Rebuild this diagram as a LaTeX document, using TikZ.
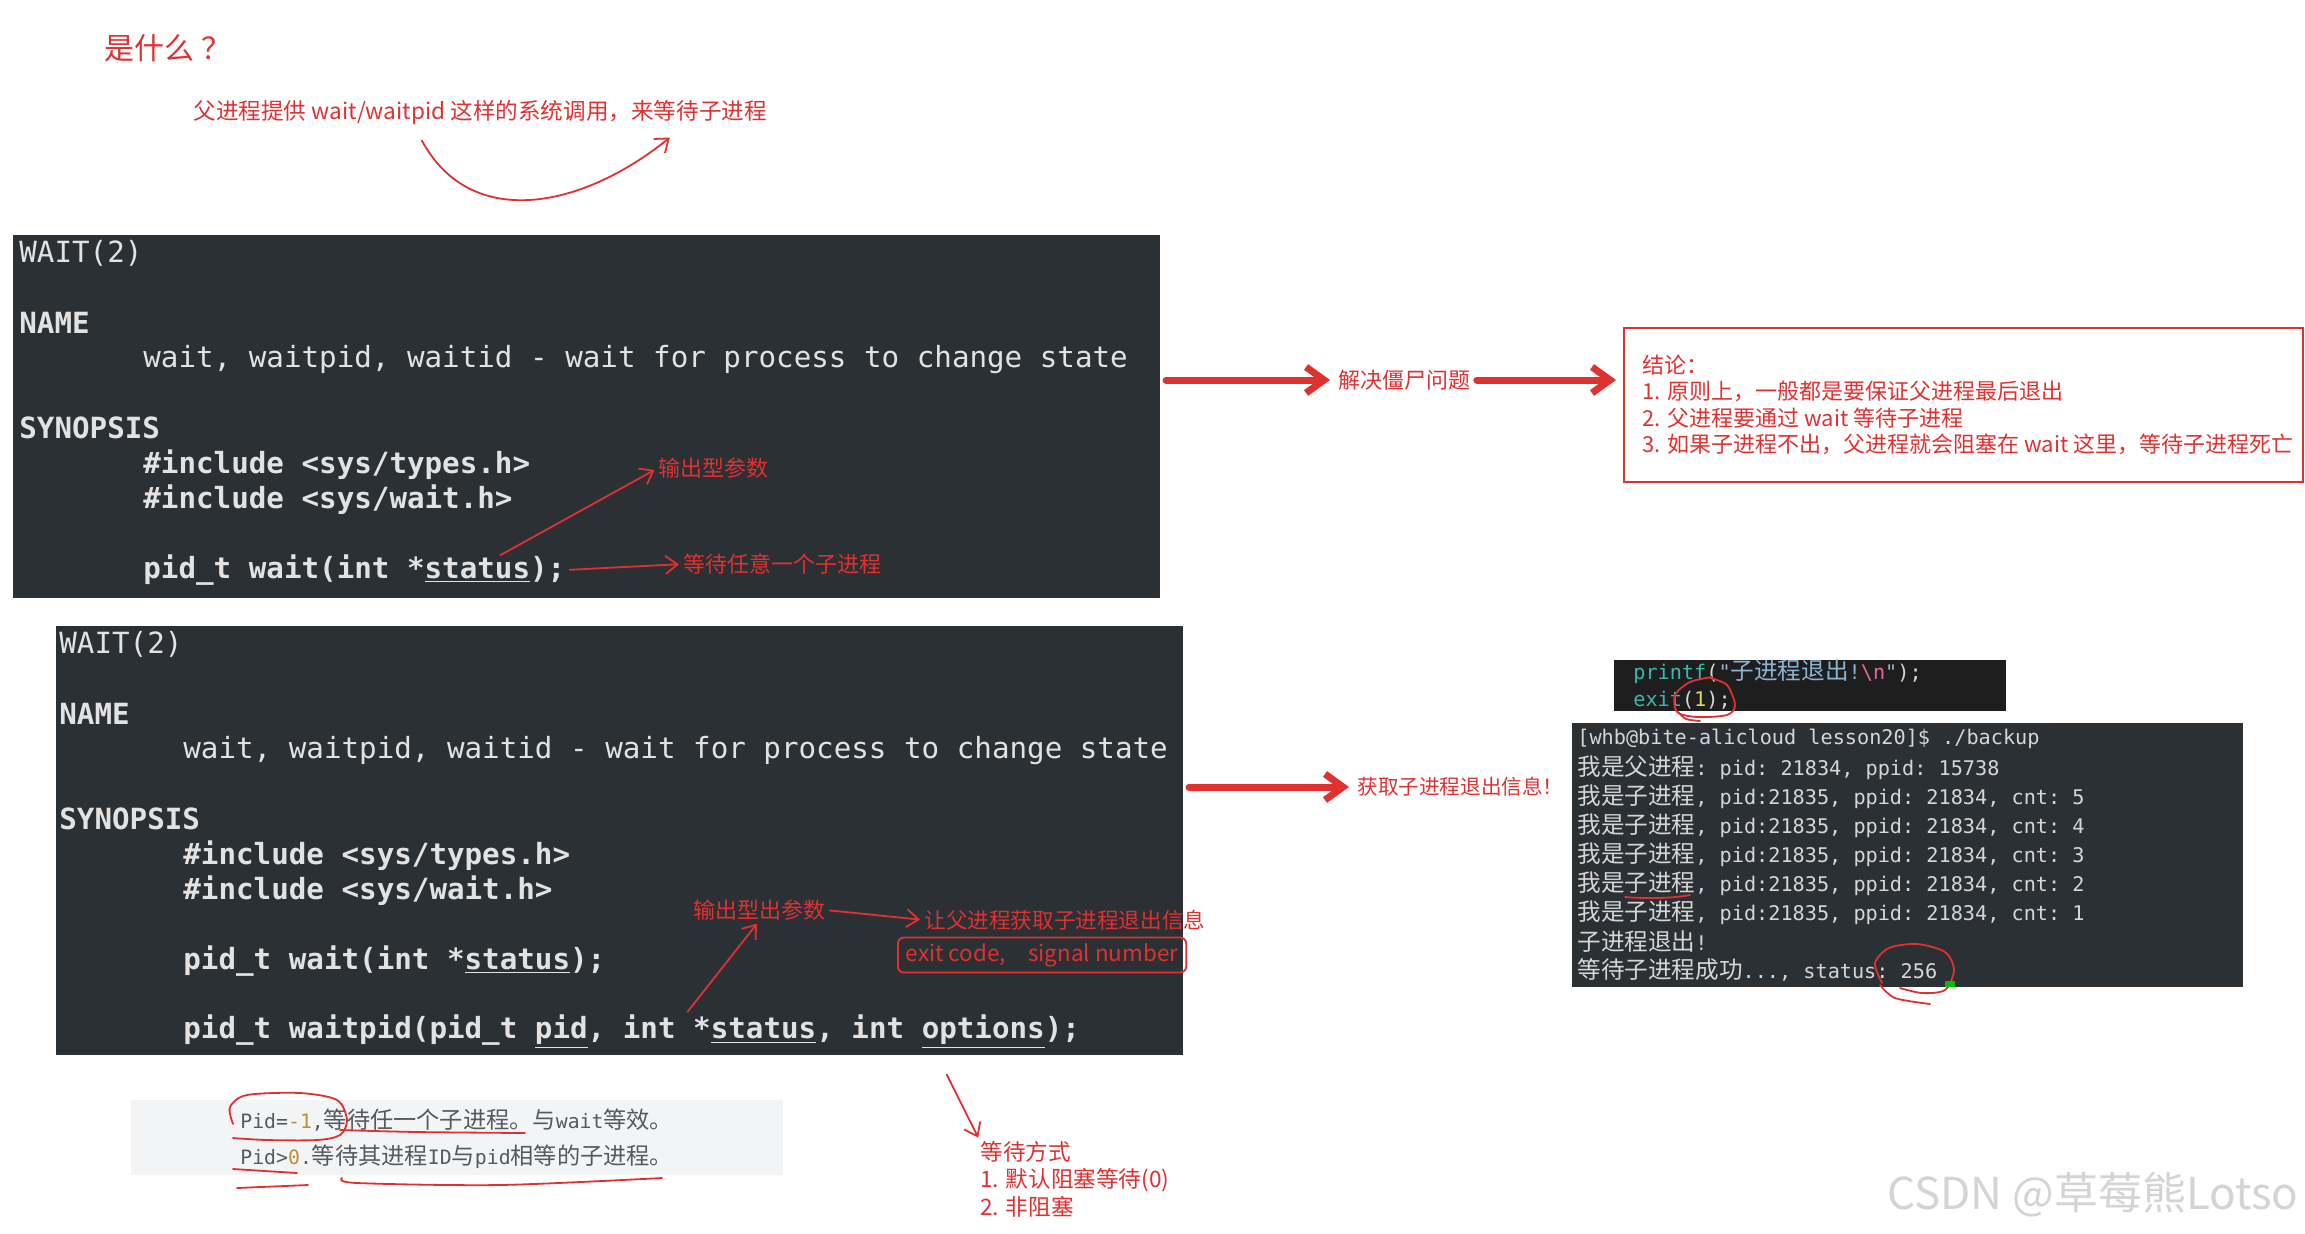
\documentclass[tikz,border=0pt]{standalone}
\usepackage{fontspec}
\setmonofont{DejaVu Sans Mono}
\newfontfamily\cjk{Noto Sans CJK SC}
\usetikzlibrary{arrows.meta}
\definecolor{manbg}{HTML}{2B3035}
\definecolor{codebg}{HTML}{1E1E1E}
\definecolor{mantext}{HTML}{E2E2E2}
\definecolor{termtext}{HTML}{D6D6D6}
\definecolor{inkred}{HTML}{E03131}
\definecolor{codeteal}{HTML}{3AB8B0}
\definecolor{codestr}{HTML}{8DB4CF}
\definecolor{codepink}{HTML}{E0699F}
\definecolor{codeyel}{HTML}{E5D36B}
\definecolor{notebg}{HTML}{F3F4F5}
\definecolor{notetext}{HTML}{555A5F}
\definecolor{notenum}{HTML}{B8922E}
\newcommand\zt[1]{{\cjk\fontsize{11.8}{12}\selectfont#1}}
\newcommand\zh[1]{{\cjk\fontsize{11.6}{12}\selectfont#1}}
\begin{document}
\begin{tikzpicture}[x=0.5pt, y=-0.5pt,
  box/.style={anchor=north west, inner sep=0pt, outer sep=0pt},
  man/.style={anchor=west, inner sep=0pt, text=mantext, font=\ttfamily\fontsize{14.6}{17}\selectfont},
  term/.style={anchor=west, inner sep=0pt, text=termtext, font=\ttfamily\fontsize{10.1}{12}\selectfont},
  note/.style={anchor=west, inner sep=0pt, text=inkred, font=\cjk\fontsize{11}{13}\selectfont},
  big/.style={note, font=\cjk\fontsize{11.3}{13}\selectfont},
  ink/.style={draw=inkred, line width=0.9pt, line cap=round, line join=round},
  pen/.style={ink, -{Straight Barb[length=6pt,width=9pt]}, shorten >=2pt, shorten <=2pt},
  fat/.style={draw=inkred, line width=3.5pt, line cap=round, -{Straight Barb[length=9pt,width=13pt]}, shorten >=4pt, shorten <=3pt}]
\fill[white] (0,0) rectangle (2305,1233);
\useasboundingbox (0,0) rectangle (2305,1233);

\node[note, font=\cjk\fontsize{15}{16}\selectfont] (what) at (104,48) {是什么 ？};
\node[big] (prov) at (193,113) {父进程提供 wait/waitpid 这样的系统调用，来等待子进程};
\coordinate (qa) at (420,137);
\coordinate (qb) at (673,135);
\draw[pen] (qa) .. controls (470,230) and (580,210) .. (qb);

\node[box, fill=manbg, minimum width=573.5pt, minimum height=181.5pt] (man1) at (13,235) {};
\node[box, fill=manbg, minimum width=563.5pt, minimum height=214.5pt] (man2) at (56,626) {};
\foreach \dx/\dy/\n in {0/0/1, 40/391/2} {
  \node[man] (m\n-title) at (19+\dx,253+\dy) {WAIT(2)};
  \node[man] (m\n-name) at (19+\dx,323+\dy) {\bfseries NAME};
  \node[man] (m\n-desc) at (143+\dx,360+\dy) {wait, waitpid, waitid - wait for process to change state};
  \node[man] (m\n-syn) at (19+\dx,428+\dy) {\bfseries SYNOPSIS};
  \node[man] (m\n-inc1) at (143+\dx,465+\dy) {\bfseries \#include <sys/types.h>};
  \node[man] (m\n-inc2) at (143+\dx,500+\dy) {\bfseries \#include <sys/wait.h>};
  \node[man] (m\n-call) at (143+\dx,570+\dy) {\bfseries pid\_t wait(int *\underline{status});};
}
\node[man] (m2-pid) at (183,1032) {\bfseries pid\_t waitpid(pid\_t \underline{pid}, int *\underline{status}, int \underline{options});};

\node[note] (p1) at (658,468) {输出型参数};
\node[note] (w1) at (683,564) {等待任意一个子进程};
\coordinate (st1) at (497,557);
\draw[pen] (st1) -- (p1.west);
\draw[pen] (m1-call.east) -- (w1.west);

\node[note] (zombie) at (1338,380) {解决僵尸问题};
\node[box, draw=inkred, line width=0.6pt, minimum width=339.5pt, minimum height=77pt] (concl) at (1624,328) {};
\draw[fat] (man1.east |- zombie.west) -- (zombie.west);
\draw[fat] (zombie.east) -- (concl.west |- zombie.east);
\foreach \t [count=\i from 0] in {结论：, 1. 原则上，一般都是要保证父进程最后退出, 2. 父进程要通过 wait 等待子进程, 3. 如果子进程不出，父进程就会阻塞在 wait 这里，等待子进程死亡}
  \node[note] (c\i) at (1642,365+26.5*\i) {\t};

\node[note] (p2) at (693,910) {输出型出参数};
\node[note, font=\cjk\fontsize{10.8}{13}\selectfont] (r2) at (924,920) {让父进程获取子进程退出信息};
\node[note, draw=inkred, line width=0.9pt, rounded corners=3pt, minimum width=143pt, minimum height=17.5pt, inner xsep=4pt, font=\cjk\fontsize{11.2}{12}\selectfont] (ec) at (897,955) {exit code,\quad signal number};
\coordinate (st2) at (685,1015);
\draw[pen] (p2.east) -- (r2.west);
\draw[pen] (st2) -- (p2.south);
\node[note, font=\cjk\fontsize{10.3}{12}\selectfont] (exitinfo) at (1357,787) {获取子进程退出信息！};
\draw[fat] (man2.east |- exitinfo.west) -- (exitinfo.west);

\node[box, fill=codebg, minimum width=196pt, minimum height=25.5pt] (code) at (1614,660) {};
\node[term] (code1) at (1633,672) {{\color{codeteal}printf}({\color{codestr}"\zt{子进程退出}!}{\color{codepink}\textbackslash n}{\color{codestr}"});};
\node[term] (code2) at (1633,700) {{\color{codeteal}exit}({\color{codeyel}1});};

\node[box, fill=manbg, minimum width=335.5pt, minimum height=132pt] (tty) at (1572,723) {};
\node[term] (t0) at (1577,739) {[whb@bite-alicloud lesson20]\$ ./backup};
\node[term] (t1) at (1577,768) {\zt{我是父进程}: pid: 21834, ppid: 15738};
\foreach \c [count=\i] in {5,4,3,2,1}
  \node[term] (tc\c) at (1577,768+29*\i) {\zt{我是子进程}, pid:21835, ppid: 21834, cnt: \c};
\node[term] (t7) at (1577,942) {\zt{子进程退出}!};
\node[term] (t8) at (1577,970) {\zt{等待子进程成功}..., status: 256};
\draw[ink] plot[smooth] coordinates {(1710,678) (1727,685) (1735,705) (1727,715) (1697,717) (1677,712) (1675,695) (1690,682) (1712,677)};
\draw[ink] plot[smooth] coordinates {(1678,712) (1686,719) (1700,721)};
\draw[ink] (1625,897) .. controls (1650,899) and (1675,898) .. (1690,895);
\draw[ink] plot[smooth] coordinates {(1882,983) (1875,963) (1889,948) (1917,944) (1945,952) (1954,970) (1945,990) (1922,993) (1900,988)};
\draw[ink] plot[smooth] coordinates {(1880,985) (1895,998) (1930,1004)};
\fill[green!75!black] (1945,981) rectangle (1955,987);

\node[box, fill=notebg, minimum width=326pt, minimum height=37.5pt] (pidnote) at (131,1100) {};
\node[anchor=west, inner sep=0pt, text=notetext, font=\ttfamily\fontsize{9.9}{12}\selectfont] (n1) at (240,1120) {Pid={\color{notenum}-1},\zh{等待任一个子进程。与}wait\zh{等效。}};
\node[anchor=west, inner sep=0pt, text=notetext, font=\ttfamily\fontsize{9.9}{12}\selectfont] (n2) at (240,1157) {Pid>{\color{notenum}0}.\zh{等待其进程}ID\zh{与}pid\zh{相等的子进程。}};
\draw[ink] plot[smooth] coordinates {(233,1124) (230,1107) (247,1095) (300,1093) (337,1100) (347,1120) (340,1135) (317,1140) (267,1140) (233,1138)};
\draw[ink] plot[smooth] coordinates {(340,1130) (417,1132) (525,1133)};
\draw[ink] (233,1169) -- (297,1173);
\draw[ink] (237,1188) -- (308,1185);
\draw[ink] plot[smooth] coordinates {(342,1178) (357,1183) (500,1185) (662,1178)};

\node[big] (wm) at (980,1152) {等待方式};
\node[big] (wm1) at (980,1180) {1. 默认阻塞等待(0)};
\node[big] (wm2) at (980,1207) {2. 非阻塞};
\coordinate (wd0) at (945,1071);
\draw[pen] (wd0) -- (wm.north west);

\node[anchor=west, inner sep=0pt, text=black!17, font=\cjk\fontsize{22}{24}\selectfont] (csdn) at (1887,1195) {CSDN @草莓熊Lotso};
\end{tikzpicture}
\end{document}
